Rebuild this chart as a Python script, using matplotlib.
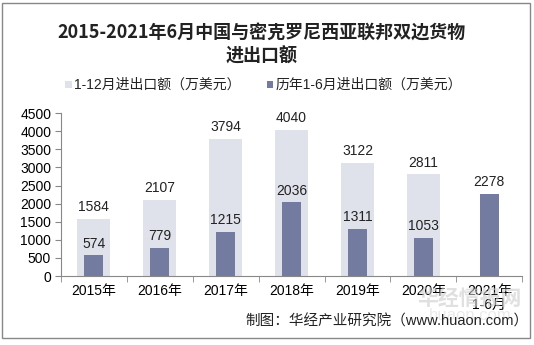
import matplotlib.pyplot as plt
from matplotlib.patches import Rectangle
import numpy as np

plt.rcParams['font.family'] = ['Liberation Sans', 'Noto Sans CJK SC']

# data
years = ['2015年', '2016年', '2017年', '2018年', '2019年', '2020年', '2021年\n1-6月']
full_year = [1584, 2107, 3794, 4040, 3122, 2811, None]
half_year = [574, 779, 1215, 2036, 1311, 1053, 2278]

light = '#dfe2ea'
dark = '#737ca0'

fig = plt.figure(figsize=(5.34, 3.45), dpi=100)
ax = fig.add_axes([0.114, 0.2, 0.864, 0.472])

x = np.arange(len(years))
fy = [v if v is not None else 0 for v in full_year]
ax.bar(x, fy, width=0.5, color=light, zorder=1)
ax.bar(x, half_year, width=0.29, color=dark, zorder=2)

for i, v in enumerate(full_year):
    if v is not None:
        ax.text(x[i], v + 130, str(v), ha='center', va='bottom', fontsize=10, color='#222222')
for i, v in enumerate(half_year):
    ax.text(x[i], v + 130, str(v), ha='center', va='bottom', fontsize=10, color='#222222')

ax.set_xlim(-0.5, len(years) - 0.5)
ax.set_ylim(0, 4500)
ax.set_yticks(range(0, 4501, 500))
ax.set_xticks(x)
ax.set_xticklabels(years, fontsize=10, linespacing=0.95)
ax.set_xticks(np.arange(-0.5, len(years), 1), minor=True)
ax.tick_params(axis='x', which='major', length=0, pad=6)
ax.tick_params(axis='x', which='minor', length=4, color='#888888')
ax.tick_params(axis='y', length=4, color='#888888', labelsize=10, pad=3)
for s in ['top', 'right']:
    ax.spines[s].set_visible(False)
for s in ['left', 'bottom']:
    ax.spines[s].set_color('#888888')
    ax.spines[s].set_linewidth(0.8)

# title
fig.text(0.49, 0.905, '2015-2021年6月中国与密克罗尼西亚联邦双边货物', ha='center', va='center',
         fontsize=13, fontweight='bold', family=['Noto Sans CJK SC'], color='#222222')
fig.text(0.49, 0.838, '进出口额', ha='center', va='center',
         fontsize=13, fontweight='bold', family=['Noto Sans CJK SC'], color='#222222')

# legend
fig.patches.append(Rectangle((0.122, 0.745), 0.012, 0.019, transform=fig.transFigure,
                             facecolor=light, edgecolor='none'))
fig.text(0.138, 0.755, '1-12月进出口额（万美元）', ha='left', va='center', fontsize=10, color='#222222')
fig.patches.append(Rectangle((0.5, 0.745), 0.012, 0.019, transform=fig.transFigure,
                             facecolor=dark, edgecolor='none'))
fig.text(0.516, 0.755, '历年1-6月进出口额（万美元）', ha='left', va='center', fontsize=10, color='#222222')

# watermark
fig.text(0.88, 0.135, '华经情报网', ha='center', va='center', fontsize=15, fontweight='bold',
         color='#cccccc', alpha=0.6)
fig.text(0.88, 0.085, 'huaon.com', ha='center', va='center', fontsize=12, color='#dddddd', alpha=0.6)

# source
fig.text(0.99, 0.068, '制图：华经产业研究院（www.huaon.com）', ha='right', va='center',
         fontsize=10.5, color='#222222')

# border
fig.patches.append(Rectangle((0.004, 0.02), 0.988, 0.97, transform=fig.transFigure,
                             facecolor='none', edgecolor='#888888', linewidth=1))

fig.savefig('out.png', dpi=100)
